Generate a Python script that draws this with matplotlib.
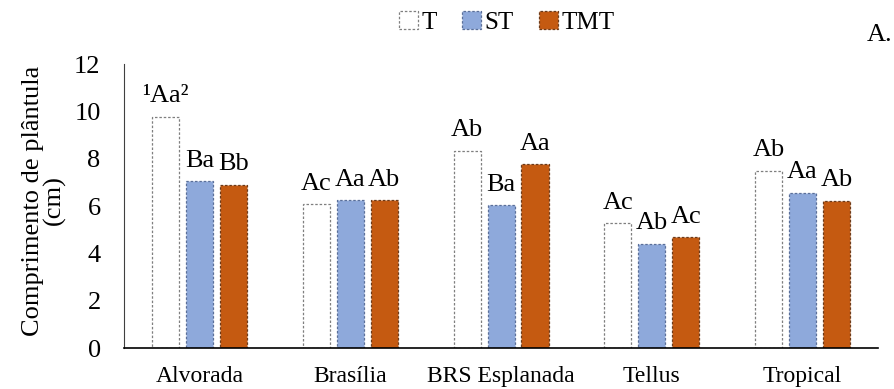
import matplotlib
matplotlib.use("Agg")
import matplotlib.pyplot as plt
import numpy as np
from matplotlib.patches import Patch

plt.rcParams['font.family'] = ['Liberation Serif', 'DejaVu Serif']

cultivars = ["Alvorada", "Brasília", "BRS Esplanada", "Tellus", "Tropical"]
series_names = ["T", "ST", "TMT"]
t_vals = [9.78, 6.08, 8.33, 5.27, 7.49]
st_vals = [7.05, 6.25, 6.04, 4.42, 6.55]
tmt_vals = [6.9, 6.25, 7.77, 4.68, 6.21]
t_labels = ["¹Aa²", "Ac", "Ab", "Ac", "Ab"]
st_labels = ["Ba", "Aa", "Ba", "Ab", "Aa"]
tmt_labels = ["Bb", "Ab", "Aa", "Ac", "Ab"]
yticks = [0, 2, 4, 6, 8, 10, 12]

fig = plt.figure(figsize=(8.94, 3.89), dpi=100)
ax = fig.add_axes([0.139, 0.105, 0.843, 0.73])

x = np.arange(len(cultivars))
w = 0.18
step = 0.225
styles = [
    dict(facecolor="white", edgecolor="#7f7f7f"),
    dict(facecolor="#8EA9DB", edgecolor="#5a6f99"),
    dict(facecolor="#C55A11", edgecolor="#6b3a1a"),
]
all_vals = [t_vals, st_vals, tmt_vals]
all_labels = [t_labels, st_labels, tmt_labels]

for i, (vals, labs, st) in enumerate(zip(all_vals, all_labels, styles)):
    pos = x + (i - 1) * step
    ax.bar(pos, vals, width=w, linestyle=(0, (2, 1.5)), linewidth=0.9, **st)
    for p, v, lab in zip(pos, vals, labs):
        ax.annotate(lab, (p, v), xytext=(0, 7), textcoords="offset points",
                    ha="center", va="bottom", fontsize=19)

ax.set_xlim(-0.5, len(cultivars) - 0.5)
ax.set_ylim(0, 12)
ax.set_yticks(yticks)
ax.set_yticklabels([str(t) for t in yticks], fontsize=19)
ax.set_xticks(x)
ax.set_xticklabels(cultivars, fontsize=17)
ax.tick_params(axis="both", length=0)
ax.tick_params(axis="x", pad=13)
ax.tick_params(axis="y", pad=17)
for s in ["top", "right"]:
    ax.spines[s].set_visible(False)
ax.spines["left"].set_color("#404040")
ax.spines["left"].set_linewidth(0.8)
ax.spines["bottom"].set_color("black")
ax.spines["bottom"].set_linewidth(1.2)
ax.set_ylabel("Comprimento de plântula\n(cm)", fontsize=19, linespacing=0.9)
ax.yaxis.set_label_coords(-0.078, 0.52)

handles = [Patch(linestyle=(0, (2, 1.5)), linewidth=0.9, **st) for st in styles]
fig.legend(handles, series_names, loc="center", bbox_to_anchor=(0.567, 0.943),
           ncol=3, frameon=False, fontsize=18, handlelength=0.75, handleheight=0.75,
           handletextpad=0.15, columnspacing=1.0)
fig.text(0.984, 0.91, "A.", fontsize=19, ha="center", va="center")

fig.savefig("out.png", dpi=100)
